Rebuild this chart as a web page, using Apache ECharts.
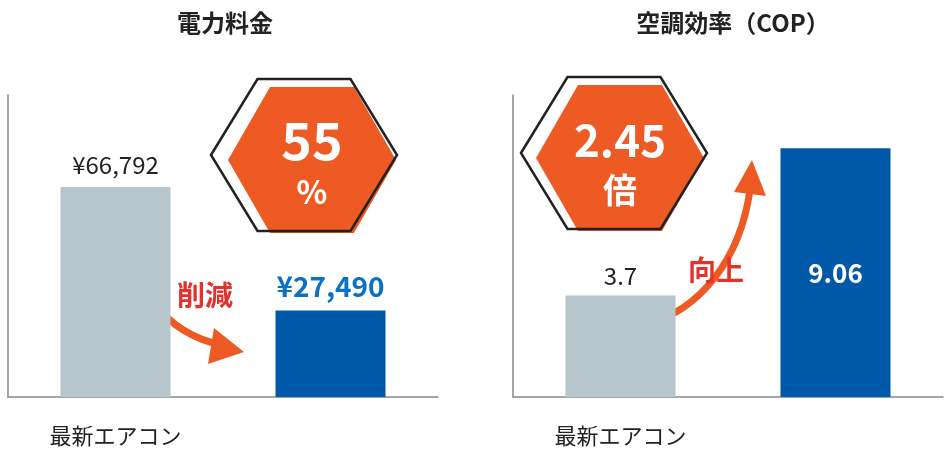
<!DOCTYPE html><html><head><meta charset="utf-8">
<script src="https://cdn.jsdelivr.net/npm/echarts@6/dist/echarts.min.js"></script>
<style>body{margin:0}#c{width:948px;height:460px}</style></head><body><div id="c"></div><script>
const categories=['最新エアコン','井戸水クーラー'];
const costValues=[66792,27490];
const copValues=[3.7,9.06];
const costLabels=['¥66,792','¥27,490'];
const copLabels=['3.7','9.06'];
const gray='#b7c5cc',blue='#0058a8',orange='#ee5a24',red='#e3322b';
const font='"Noto Sans CJK JP","Noto Sans",sans-serif';
const ch=echarts.init(document.getElementById('c'));
function axisCat(i){return {type:'category',gridIndex:i,data:categories,axisTick:{show:false},
 axisLine:{lineStyle:{color:'#888',width:1.5}},
 axisLabel:{margin:28,fontSize:22,fontFamily:font,color:'#222',
  formatter:(v,k)=>k===1?'{b|'+v+'}':v,rich:{b:{color:'#0a72c4',fontWeight:'bold',fontSize:25,fontFamily:font}}}};}
function axisVal(i,max){return {type:'value',gridIndex:i,min:0,max:max,splitLine:{show:false},axisLabel:{show:false},axisTick:{show:false},axisLine:{show:true,lineStyle:{color:'#888',width:1.5}}};}
function hex(cx,cy,w,h){const a=w/2,b=h/2,c=a*0.5;return [[cx-a,cy],[cx-a+c,cy-b],[cx+a-c,cy-b],[cx+a,cy],[cx+a-c,cy+b],[cx-a+c,cy+b]];}
ch.setOption({
 animation:false,
 title:[{text:'電力料金',left:220,top:6,textAlign:'center',textStyle:{fontSize:24,fontWeight:'bold',color:'#222',fontFamily:font}},
  {text:'空調効率（COP）',left:728,top:6,textAlign:'center',textStyle:{fontSize:24,fontWeight:'bold',color:'#222',fontFamily:font}}],
 grid:[{left:8,width:430,top:95,bottom:63},{left:513,width:430,top:95,bottom:63}],
 xAxis:[axisCat(0),axisCat(1)],
 yAxis:[axisVal(0,96000),axisVal(1,11)],
 series:[
  {type:'bar',xAxisIndex:0,yAxisIndex:0,barWidth:110,
   data:costValues.map((v,i)=>({value:v,itemStyle:{color:i?blue:gray},
    label:{show:true,position:'top',distance:10,formatter:costLabels[i],fontFamily:font,
     fontSize:i?28:24,fontWeight:i?'bold':'normal',color:i?'#0a72c4':'#222'}}))},
  {type:'bar',xAxisIndex:1,yAxisIndex:1,barWidth:110,
   data:copValues.map((v,i)=>({value:v,itemStyle:{color:i?blue:gray},
    label:{show:true,position:i?'insideTop':'top',distance:i?112:8,formatter:copLabels[i],fontFamily:font,
     fontSize:i?26:24,fontWeight:i?'bold':'normal',color:i?'#fff':'#222'}}))}
 ],
 graphic:[
  {type:'group',z:100,children:[
  {type:'polygon',shape:{points:hex(312,160,168,146)},style:{fill:orange}},
  {type:'polygon',shape:{points:hex(304,155,186,152)},style:{fill:'none',stroke:'#222',lineWidth:2.5}},
  {type:'text',x:312,y:140,style:{text:'55',fill:'#fff',font:'bold 52px '+font,align:'center',verticalAlign:'middle'}},
  {type:'text',x:312,y:192,style:{text:'%',fill:'#fff',font:'bold 32px '+font,align:'center',verticalAlign:'middle'}},
  {type:'polygon',shape:{points:hex(620,158,168,146)},style:{fill:orange}},
  {type:'polygon',shape:{points:hex(614,153,186,152)},style:{fill:'none',stroke:'#222',lineWidth:2.5}},
  {type:'text',x:620,y:140,style:{text:'2.45',fill:'#fff',font:'bold 44px '+font,align:'center',verticalAlign:'middle'}},
  {type:'text',x:620,y:190,style:{text:'倍',fill:'#fff',font:'bold 34px '+font,align:'center',verticalAlign:'middle'}},
  {type:'bezierCurve',shape:{x1:118,y1:200,cpx1:125,cpy1:290,cpx2:170,cpy2:335,x2:222,y2:345},style:{stroke:orange,lineWidth:7,fill:'none'}},
  {type:'polygon',shape:{points:[[214,328],[244,352],[208,364]]},style:{fill:orange}},
  {type:'text',x:205,y:295,style:{text:'削減',fill:red,font:'bold 28px '+font,align:'center',verticalAlign:'middle'}},
  {type:'bezierCurve',shape:{x1:645,y1:325,cpx1:700,cpy1:310,cpx2:740,cpy2:260,x2:750,y2:190},style:{stroke:orange,lineWidth:7,fill:'none'}},
  {type:'polygon',shape:{points:[[734,192],[752,160],[766,196]]},style:{fill:orange}},
  {type:'text',x:716,y:270,style:{text:'向上',fill:red,font:'bold 28px '+font,align:'center',verticalAlign:'middle'}}
  ]}
 ]
});
</script></body></html>
